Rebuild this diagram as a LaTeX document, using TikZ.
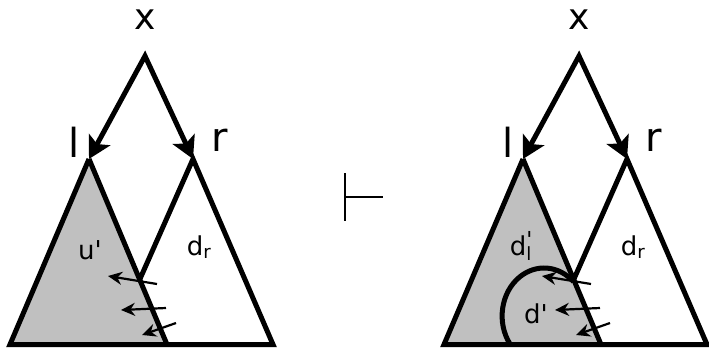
\documentclass[tikz,border=0pt]{standalone}
\usepackage{fontspec}
\setmainfont{DejaVu Sans}
\usetikzlibrary{calc,arrows.meta}
\definecolor{subtreegray}{RGB}{192,192,192}

\begin{document}
\begin{tikzpicture}[x=1pt,y=-1pt,>=Stealth,
  edge/.style={line width=5pt,line join=miter},
  big/.style={font=\fontsize{40}{40}\selectfont,inner sep=0pt},
  lbl/.style={font=\fontsize{26}{26}\selectfont,inner sep=0pt},
  push/.style={line width=2.2pt,-{Stealth[length=14pt,width=13pt]}}]
\useasboundingbox (0,0) rectangle (709,348);
\foreach \dx/\t in {0/a,434/b} {
  \coordinate (xtop\t) at (\dx+145,56);
  \coordinate (lroot\t) at (\dx+89,159);
  \coordinate (rroot\t) at (\dx+193,159);
  \coordinate (bl\t) at (\dx+10,344.5);
  \coordinate (bm\t) at (\dx+167,344.5);
  \coordinate (br\t) at (\dx+273,344.5);
  \coordinate (meet\t) at ($(lroot\t)!.65!(bm\t)$);
  \fill[subtreegray] (lroot\t) -- (bl\t) -- (bm\t) -- cycle;
  \draw[edge] (lroot\t) -- (bl\t) -- (br\t) -- (rroot\t) -- (meet\t);
  \draw[edge] (lroot\t) -- (bm\t);
  \draw[edge,
    {Stealth[length=22pt,width=24pt,inset=5pt]}-{Stealth[length=22pt,width=24pt,inset=5pt]}]
    (lroot\t) -- (xtop\t) -- (rroot\t);
  \node[font=\fontsize{36}{36}\selectfont,inner sep=0pt] (x\t) at (\dx+145,20) {x};
  \node[big] (l\t) at (\dx+74,142) {l};
  \node[big] (r\t) at (\dx+220,140) {r};
  \node[lbl] (dr\t) at (\dx+199,247) {d\textsubscript{r}};
  % pushed from the right subtree
  \coordinate (p1\t) at (\dx+157,284); \coordinate (q1\t) at (\dx+108,276);
  \coordinate (p2\t) at (\dx+166,308); \coordinate (q2\t) at (\dx+121,310);
  \coordinate (p3\t) at (\dx+176,323); \coordinate (q3\t) at (\dx+142,335);
  \foreach \k in {1,2,3} \draw[push] (p\k\t) -- (q\k\t);
}
\node[lbl] (u) at (90,250) {u\textquotesingle};
\node[lbl] (dl) at (521,246) {d\rlap{\raisebox{0.55ex}{\fontsize{22}{22}\selectfont\textquotesingle}}\textsubscript{l}};
\node[lbl] (dd) at (536,314) {d\textquotesingle};
\draw[edge] (510,344) arc[start angle=144.3,end angle=314.4,x radius=42,y radius=48];
% turnstile
\coordinate (ttop) at (345,173); \coordinate (tbot) at (345,221);
\coordinate (tmid) at (345,197); \coordinate (tend) at (383,197);
\draw[line width=2pt] (ttop) -- (tbot) (tmid) -- (tend);
\end{tikzpicture}
\end{document}
